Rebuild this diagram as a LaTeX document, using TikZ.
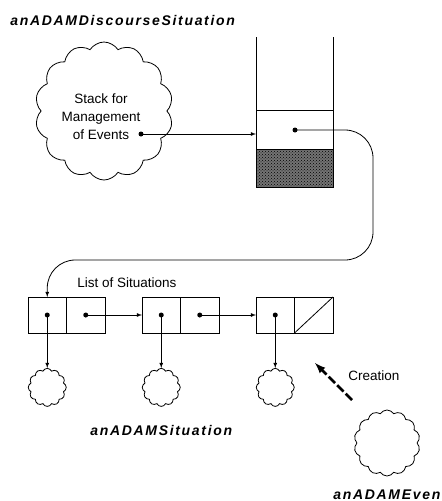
\documentclass[tikz,border=0pt]{standalone}
\usepackage{fontspec}
\setmainfont{Liberation Sans}
\newfontfamily\objfont[LetterSpace=12]{Liberation Sans}
\usetikzlibrary{shapes,arrows,positioning,patterns}

\begin{document}
\begin{tikzpicture}[x=1pt, y=-1pt, >=latex, line width=0.8pt,
  objname/.style={font=\objfont\fontsize{14}{16}\selectfont\bfseries\itshape, inner sep=0pt},
  plain/.style={font=\fontsize{13.5}{18}\selectfont, inner sep=0pt},
  bigcloud/.style={draw, cloud, cloud puffs=14, cloud puff arc=115, aspect=1, inner sep=0pt},
  smallcloud/.style={draw, cloud, cloud puffs=12, cloud puff arc=130, aspect=1, inner sep=0pt, minimum size=38pt},
  cell/.style={draw, rectangle, minimum width=38.5pt, minimum height=36pt, inner sep=0pt, outer sep=0pt},
  base/.style={draw, rectangle, minimum width=77pt, minimum height=38pt, inner sep=0pt, outer sep=0pt,
    fill=black!55, postaction={pattern=crosshatch dots, pattern color=black}},
  dot/.style={circle, fill, inner sep=0pt, minimum size=5pt},
  creation/.style={->, line width=2.6pt, dash pattern=on 9pt off 3pt}
]
\useasboundingbox (0,0) rectangle (442,501);

% Discourse situation with its event stack
\node[objname, anchor=west] (dsname) at (10,20) {anADAMDiscourseSituation};
\node[bigcloud, minimum width=138pt, minimum height=138pt] (events) at (104,111) {};
\node[plain, align=center] (evtext) at (101,117) {Stack for\\Management\\of Events};
\node[dot] (evdot) at (141,134) {};

\node[rectangle, minimum width=77pt, minimum height=39pt, inner sep=0pt, outer sep=0pt] (top) at (294.5,129.5) {};
\node[base] (bottom) at (294.5,168) {};
\draw (256,37) -- (256,187) -- (333,187) -- (333,37);
\draw (top.north west) -- (top.north east);
\node[dot] (topdot) at (295,130) {};

\draw[->] (evdot.center) -- (evdot -| top.west);

% List of situations
\node[plain, anchor=west] (listname) at (77,283) {List of Situations};
\node[cell] (c1a) at (47.25,315) {};
\node[cell, right=0pt of c1a] (c1b) {};
\node[cell, right=37pt of c1b] (c2a) {};
\node[cell, right=0pt of c2a] (c2b) {};
\node[cell, right=37pt of c2b] (c3a) {};
\node[cell, right=0pt of c3a] (c3b) {};
\draw (c3b.south west) -- (c3b.north east);

\foreach \c in {c1a,c1b,c2a,c2b,c3a}
  \node[dot] (dot\c) at (\c) {};

\coordinate (bend) at (373,260);
\draw[->, draw=black, rounded corners=28pt] (topdot.center) -| (bend) -| (c1a.north);

\draw[->] (dotc1b.center) -- (c2a.west);
\draw[->] (dotc2b.center) -- (c3a.west);

% Situations
\foreach \c/\s in {c1a/s1, c2a/s2, c3a/s3} {
  \node[smallcloud, below=35pt of \c] (\s) {};
  \draw[->] (dot\c.center) -- (\s.north);
}
\node[objname, anchor=west] (sitname) at (90,430) {anADAMSituation};

% Event
\node[bigcloud, minimum width=66pt, minimum height=66pt] (event) at (387,443) {};
\node[objname, anchor=west] (evname) at (333,495) {anADAMEvent};
\coordinate (crfrom) at (352,400);
\coordinate (crto) at (315,363);
\draw[creation] (crfrom) -- (crto);
\node[plain, anchor=west] (crlabel) at (348,376) {Creation};

\end{tikzpicture}
\end{document}
